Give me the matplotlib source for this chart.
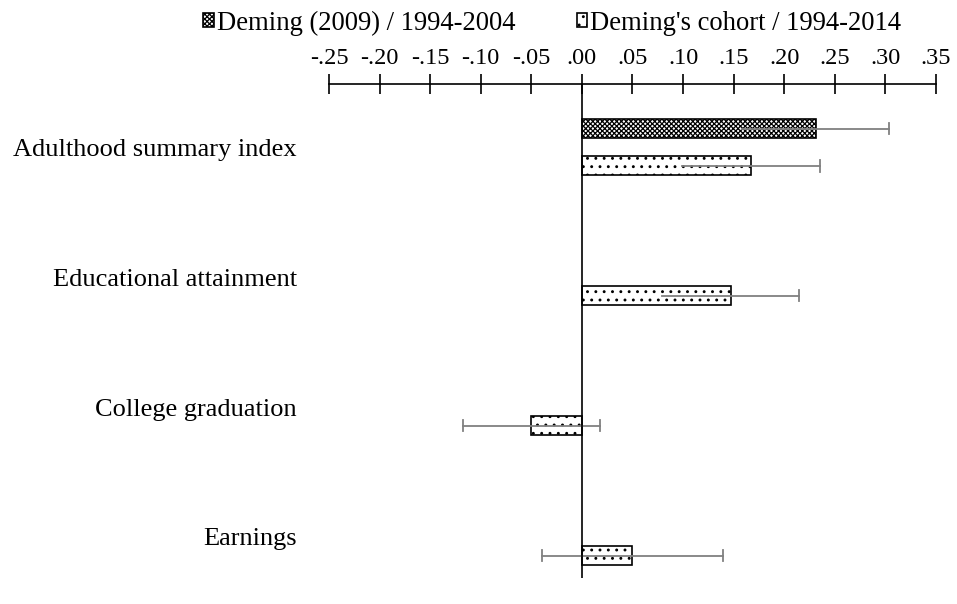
import matplotlib
matplotlib.use("Agg")
import matplotlib.pyplot as plt
import numpy as np

plt.rcParams['font.family'] = ['Liberation Serif', 'DejaVu Serif']
plt.rcParams['hatch.linewidth'] = 0.9

categories = ["Adulthood summary index", "Educational attainment", "College graduation", "Earnings"]
series_names = ["Deming (2009) / 1994-2004", "Deming's cohort / 1994-2014"]
# Deming (2009): only the summary index
deming2009_vals = [0.231, np.nan, np.nan, np.nan]
deming2009_err = [0.073, np.nan, np.nan, np.nan]
cohort_vals = [0.167, 0.147, -0.050, 0.050]
cohort_err = [0.068, 0.068, 0.068, 0.089]
xtick_vals = [-0.25, -0.20, -0.15, -0.10, -0.05, 0.00, 0.05, 0.10, 0.15, 0.20, 0.25, 0.30, 0.35]
xtick_labels = ["-.25", "-.20", "-.15", "-.10", "-.05", ".00", ".05", ".10", ".15", ".20", ".25", ".30", ".35"]

fig = plt.figure(figsize=(9.57, 6.04), dpi=100)
ax = fig.add_axes([0.3438, 0.043, 0.978 - 0.3438, 0.861 - 0.043])

y = np.arange(len(categories))
off = 0.143
h = 0.148
errcol = '#808080'

def draw(vals, errs, ypos, hatch, label):
    bars = ax.barh(ypos, vals, height=h, color='white', edgecolor='black',
                   linewidth=1.2, hatch=hatch, label=label, zorder=2)
    for v, e, yy in zip(vals, errs, ypos):
        if np.isnan(v):
            continue
        lo, hi = v - e, v + e
        ax.plot([lo, hi], [yy, yy], color=errcol, lw=1.3, zorder=3)
        for end in (lo, hi):
            inside = min(0, v) < end < max(0, v)
            if not inside:
                ax.plot([end, end], [yy - 0.045, yy + 0.045], color=errcol, lw=1.3, zorder=3)
    return bars

draw(deming2009_vals, deming2009_err, y - off, 'xxxxxxx', series_names[0])
draw(cohort_vals, cohort_err, y + off, '..', series_names[1])

ax.axvline(0, color='black', lw=1.2, zorder=4)

ax.set_xlim(-0.25, 0.35)
ax.set_ylim(3.316, -0.486)

for s in ['left', 'right', 'bottom']:
    ax.spines[s].set_visible(False)
ax.spines['top'].set_linewidth(1.2)
ax.spines['top'].set_bounds(-0.25, 0.35)

ax.xaxis.set_ticks_position('top')
ax.set_xticks(xtick_vals)
ax.set_xticklabels(xtick_labels)
ax.tick_params(axis='x', direction='inout', length=14, width=1.2, labelsize=17.5, pad=3.5)

ax.set_yticks(y)
ax.set_yticklabels(categories)
ax.tick_params(axis='y', length=0, labelsize=19, pad=23)

handles, labels = ax.get_legend_handles_labels()
fig.legend(handles, labels, loc='center', bbox_to_anchor=(0.577, 0.962), ncol=2,
           frameon=False, fontsize=19.2, handlelength=0.4, handleheight=0.4,
           handletextpad=0.1, columnspacing=2.3, borderaxespad=0, borderpad=0)

fig.savefig('out.png', dpi=100)
